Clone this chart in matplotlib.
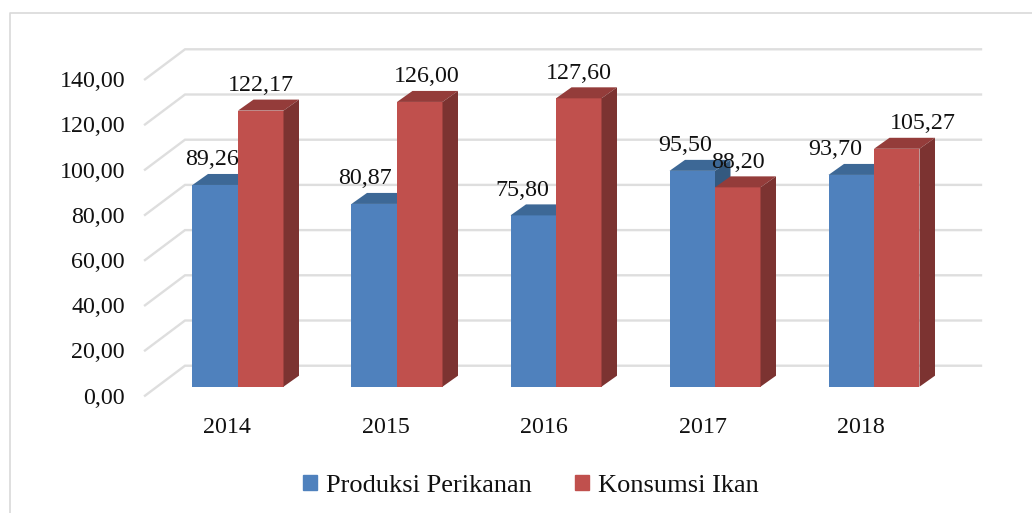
import numpy as np
import matplotlib
matplotlib.use("Agg")
import matplotlib.pyplot as plt
from matplotlib.patches import Patch

years = ["2014", "2015", "2016", "2017", "2018"]
produksi = [89.26, 80.87, 75.80, 95.50, 93.70]
konsumsi = [122.17, 126.00, 127.60, 88.20, 105.27]
ticks = [0, 20, 40, 60, 80, 100, 120, 140]

fmt = lambda v: ("%.2f" % v).replace(".", ",")

# label nudges in pixels, they were placed by hand in the original
nudge_b = [-3, -9, -11, -7, -16]
nudge_k = [0, 7, 0, 0, 26]

plt.rcParams["font.family"] = ["Liberation Serif", "DejaVu Serif"]
BLUE, BLUE_TOP = "#4F81BD", "#3D6896"
RED, RED_TOP, RED_SIDE = "#C0504D", "#943C3A", "#7C3331"
GRID = "#DEDEDE"

fig = plt.figure(figsize=(10.32, 5.13), dpi=100)
ax = fig.add_axes([0, 0, 1, 1])

# 159 px per category, 2.26 px per unit, x=0 sits at 238 px and y=0 at 386.7 px
ppx, ppy = 159.0, 2.26
ax.set_xlim(-238 / ppx, (1032 - 238) / ppx)
ax.set_ylim(-(513 - 386.7) / ppy, 386.7 / ppy)
ax.axis("off")

x = np.arange(len(years))
w = 45.5 / ppx
dx, dy = 15.5 / ppx, 11 / ppy  # bar depth

# back wall gridlines and the slanted bit on the left
wall_l, wall_r = (185 - 238) / ppx, (981 - 238) / ppx
slant_l = (145 - 238) / ppx
back = 21 / ppy
front = -9 / ppy
for t in ticks:
    ax.plot([slant_l, wall_l, wall_r], [t + front, t + back, t + back], color=GRID, lw=1.7,
            solid_joinstyle="miter", zorder=1)
    ax.text(slant_l - 20 / ppx, t + front - 2.5 / ppy, fmt(t), ha="right", va="center", fontsize=17.3, color="#111111")

z = 2
for i in x:
    for vals, x0, c, top, side in [(produksi, i - w, BLUE, BLUE_TOP, "#34597F"), (konsumsi, i, RED, RED_TOP, RED_SIDE)]:
        v = vals[i]
        ax.bar(x0, v, w, align="edge", color=c, zorder=z)
        ax.fill([x0, x0 + dx, x0 + w + dx, x0 + w], [v, v + dy, v + dy, v], color=top, lw=0, zorder=z)
        ax.fill([x0 + w, x0 + w + dx, x0 + w + dx, x0 + w], [0, dy, v + dy, v], color=side, lw=0, zorder=z)
        z += 1

for i in x:
    ax.annotate(fmt(produksi[i]), (i - w / 2, produksi[i]), xytext=(nudge_b[i], 25), textcoords="offset pixels",
                ha="center", va="center", fontsize=17.3, color="#111111", zorder=50)
    ax.annotate(fmt(konsumsi[i]), (i + w / 2, konsumsi[i]), xytext=(nudge_k[i], 25), textcoords="offset pixels",
                ha="center", va="center", fontsize=17.3, color="#111111", zorder=50)
    ax.text(i - 11 / ppx - 0.003 * i, -(427.5 - 386.7) / ppy, years[i], ha="center", va="center", fontsize=17.3, color="#111111")

# outer frame, only left and top show up
fig.add_artist(plt.Line2D([10 / 1032, 10 / 1032, 1], [0, 1 - 13 / 513, 1 - 13 / 513], color="#D9D9D9", lw=1.2))

handles = [Patch(color=BLUE, label="Produksi Perikanan"), Patch(color=RED, label="Konsumsi Ikan")]
ax.legend(handles=handles, loc="center", bbox_to_anchor=(531 / 1032, 1 - 486 / 513), ncol=2, frameon=False,
          fontsize=19, handlelength=0.53, handleheight=0.53, handletextpad=0.33, columnspacing=1.65,
          labelcolor="#111111")

fig.savefig("out.png", dpi=100)
